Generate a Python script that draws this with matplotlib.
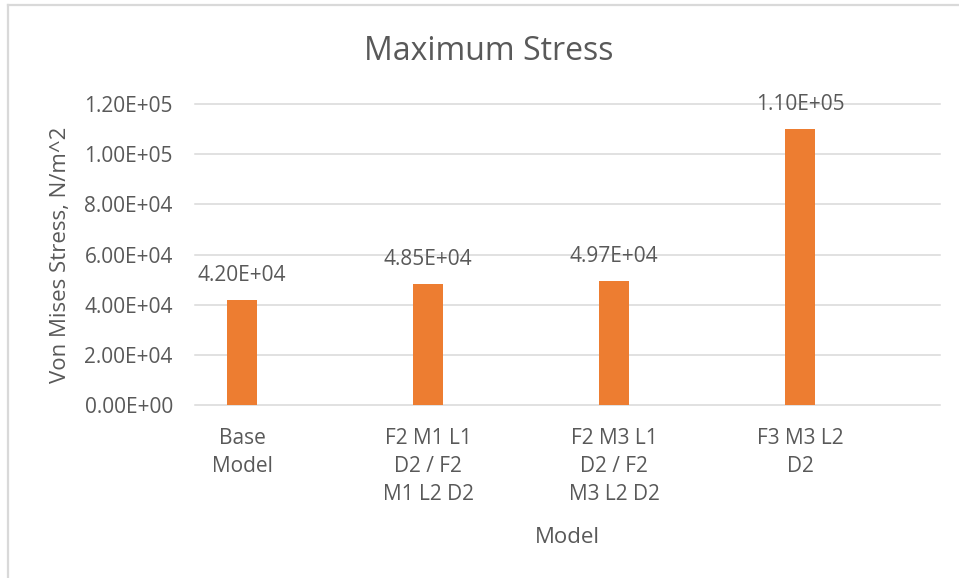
import matplotlib
matplotlib.use("Agg")
import matplotlib.pyplot as plt
from matplotlib.lines import Line2D

# Chart data
models = ["Base\nModel", "F2 M1 L1\nD2 / F2\nM1 L2 D2", "F2 M3 L1\nD2 / F2\nM3 L2 D2", "F3 M3 L2\nD2"]
max_stress = [4.20e4, 4.85e4, 4.97e4, 1.10e5]
y_ticks = [0, 2e4, 4e4, 6e4, 8e4, 1e5, 1.2e5]
y_tick_labels = ["0.00E+00", "2.00E+04", "4.00E+04", "6.00E+04", "8.00E+04", "1.00E+05", "1.20E+05"]
value_labels = ["4.20E+04", "4.85E+04", "4.97E+04", "1.10E+05"]

plt.rcParams["font.family"] = ["Open Sans", "DejaVu Sans"]
TEXT = "#595959"
GRID = "#D9D9D9"
BAR = "#ED7D31"

W, H = 959, 578
fig = plt.figure(figsize=(W / 100, H / 100), dpi=100)
fig.patch.set_facecolor("white")

# plot area in pixel terms
left, right, top, bottom = 195, 940, 104, 405.3
ax = fig.add_axes([left / W, (H - bottom) / H, (right - left) / W, (bottom - top) / H])

x = list(range(len(models)))
ax.bar(x, max_stress, width=0.161, color=BAR, zorder=3)

ax.set_xlim(-0.253, 3.753)
ax.set_ylim(0, 1.2e5)
ax.set_yticks(y_ticks)
ax.set_yticklabels(y_tick_labels)
ax.set_xticks(x)
ax.set_xticklabels(models)

for s in ax.spines.values():
    s.set_visible(False)
ax.tick_params(axis="both", length=0, colors=TEXT, labelsize=15)
ax.tick_params(axis="y", pad=16)
ax.tick_params(axis="x", pad=16)
for lbl in ax.get_xticklabels():
    lbl.set_linespacing(1.45)

ax.yaxis.grid(True, color=GRID, linewidth=1.1, zorder=0)
ax.set_axisbelow(True)
for gl in ax.get_ygridlines():
    gl.set_clip_on(False)

# value labels above each bar
for xi, v, txt in zip(x, max_stress, value_labels):
    ax.annotate(txt, (xi, v), xytext=(0, 17.5), textcoords="offset points",
                ha="center", va="center", fontsize=15, color=TEXT)

ax.set_xlabel("Model", fontsize=16, color=TEXT, va="center")
ax.xaxis.set_label_coords(0.5, -0.44)
ax.set_ylabel("Von Mises Stress, N/m^2", fontsize=16, color=TEXT, va="center", ha="center")
ax.yaxis.set_label_coords(-0.181, 0.5)

fig.text(489 / W, (H - 52) / H, "Maximum Stress", fontsize=23, color=TEXT,
         ha="center", va="center")

# chart frame (top and left edges)
ty = (H - 5) / H
lx = 8 / W
fig.add_artist(Line2D([lx, 1], [ty, ty], color=GRID, linewidth=1.6, transform=fig.transFigure))
fig.add_artist(Line2D([lx, lx], [0, ty], color=GRID, linewidth=1.6, transform=fig.transFigure))

fig.savefig("out.png", dpi=100, facecolor="white")
